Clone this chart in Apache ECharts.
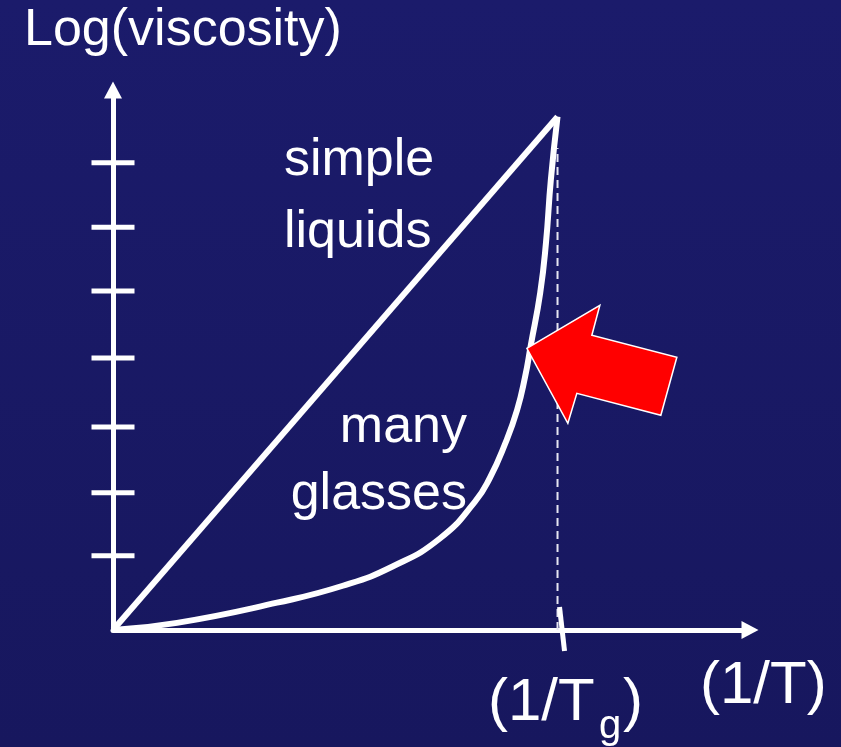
<!DOCTYPE html>
<html>
<head>
<meta charset="utf-8">
<title>Log(viscosity) vs 1/T</title>
<script src="https://cdn.jsdelivr.net/npm/echarts@6/dist/echarts.min.js"></script>
<style>
  html, body { margin: 0; padding: 0; }
  #chart { width: 841px; height: 747px; }
</style>
</head>
<body>
<div id="chart"></div>
<script>
// Axis extents (x in units of 1/Tg, y in log-viscosity steps)
const xMax = 1.433;
const yMax = 8.3;
const tgX = 1.0;

// Strong ("simple liquids") behaviour: straight Arrhenius line
const liquidsX = [0, 1.0];
const liquidsY = [0, 7.89];

// Fragile ("many glasses") behaviour
const glassX = [0, 0.144, 0.369, 0.517, 0.630, 0.736, 0.814, 0.848, 0.882, 0.909, 0.927, 0.940, 0.961, 0.974, 0.985, 1.0];
const glassY = [0, 0.11, 0.42, 0.68, 0.98, 1.41, 1.97, 2.34, 2.86, 3.38, 3.89, 4.38, 5.18, 5.95, 6.92, 7.89];

// Tick marks across the vertical axis
const tickLevels = [1.14, 2.11, 3.12, 4.18, 5.21, 6.19, 7.18];

// Top of the dashed guide at 1/Tg
const tgGuideTop = 7.41;

// Where the red arrow points on the glass curve
const arrowTarget = [0.931, 4.33];

const FONT = "'Liberation Sans', Arial, Helvetica, sans-serif";
const WHITE = '#ffffff';

const zip = (xs, ys) => xs.map((x, i) => [x, ys[i]]);

const chart = echarts.init(document.getElementById('chart'), null, { renderer: 'canvas' });

const axisCommon = {
  type: 'value',
  axisLine: { show: true, symbol: ['none', 'triangle'], symbolSize: [18, 17],
    lineStyle: { color: WHITE, width: 5 } },
  axisTick: { show: false }, axisLabel: { show: false }, splitLine: { show: false }
};

const option = {
  animation: false,
  backgroundColor: {
    type: 'linear', x: 0, y: 0, x2: 0, y2: 1,
    colorStops: [
      { offset: 0, color: '#1b1b6b' },
      { offset: 1, color: '#17175e' }
    ]
  },
  grid: { left: 113, right: 91, top: 90, bottom: 117 },
  xAxis: Object.assign({ min: 0, max: xMax }, axisCommon),
  yAxis: Object.assign({ min: 0, max: yMax }, axisCommon),
  series: [
    {
      // dashed guide at 1/Tg
      type: 'line', clip: false, silent: true, symbol: 'none',
      data: [[tgX, 0], [tgX, tgGuideTop]],
      lineStyle: { color: '#e6e6f2', width: 2, type: [8, 5] },
      z: 1
    },
    {
      type: 'scatter', clip: false, silent: true,
      symbol: 'rect', symbolSize: [43, 5],
      data: tickLevels.map(v => [0, v]),
      itemStyle: { color: WHITE, opacity: 1 },
      z: 3
    },
    {
      name: 'simple liquids',
      type: 'line', clip: false, silent: true, symbol: 'none',
      data: zip(liquidsX, liquidsY),
      lineStyle: { color: WHITE, width: 6, join: 'bevel' },
      z: 4
    },
    {
      name: 'many glasses',
      type: 'line', clip: false, silent: true, symbol: 'none',
      smooth: 0.5,
      data: zip(glassX, glassY),
      lineStyle: { color: WHITE, width: 6, join: 'bevel' },
      z: 4
    },
    {
      // slanted tick mark at 1/Tg on the horizontal axis
      type: 'custom', clip: false, silent: true,
      data: [[tgX, 0]],
      renderItem: (params, api) => {
        const c = api.coord([api.value(0), api.value(1)]);
        return {
          type: 'line',
          shape: { x1: c[0] + 2, y1: c[1] - 23, x2: c[0] + 7, y2: c[1] + 21 },
          style: { stroke: WHITE, lineWidth: 5 }
        };
      },
      z: 5
    },
    {
      // red block arrow pointing at the steep part of the glass curve
      type: 'custom', clip: false, silent: true,
      data: [arrowTarget],
      renderItem: (params, api) => {
        const c = api.coord([api.value(0), api.value(1)]);
        const offs = [[0, 0], [73, -43], [65, -13], [150, 9], [134, 67], [50, 45], [41, 75]];
        return {
          type: 'polygon',
          shape: { points: offs.map(o => [c[0] + o[0], c[1] + o[1]]) },
          style: { fill: '#ff0000', stroke: WHITE, lineWidth: 1.5, lineJoin: 'miter' }
        };
      },
      z: 6
    }
  ],
  graphic: [
    { type: 'text', x: 24, y: 31, style: { text: 'Log(viscosity)', font: '52px ' + FONT, fill: WHITE, verticalAlign: 'middle' } },
    { type: 'text', x: 284, y: 161, style: { text: 'simple', font: '52px ' + FONT, fill: WHITE, verticalAlign: 'middle' } },
    { type: 'text', x: 284, y: 233, style: { text: 'liquids', font: '52px ' + FONT, fill: WHITE, verticalAlign: 'middle' } },
    { type: 'text', x: 467, y: 428, style: { text: 'many', font: '52px ' + FONT, fill: WHITE, align: 'right', verticalAlign: 'middle' } },
    { type: 'text', x: 467, y: 495, style: { text: 'glasses', font: '52px ' + FONT, fill: WHITE, align: 'right', verticalAlign: 'middle' } },
    { type: 'text', x: 488, y: 703, style: { text: '(1/T', font: '60px ' + FONT, fill: WHITE, verticalAlign: 'middle' } },
    { type: 'text', x: 599, y: 727, style: { text: 'g', font: '40px ' + FONT, fill: WHITE, verticalAlign: 'middle' } },
    { type: 'text', x: 623, y: 703, style: { text: ')', font: '60px ' + FONT, fill: WHITE, verticalAlign: 'middle' } },
    { type: 'text', x: 700, y: 686, style: { text: '(1/T)', font: '60px ' + FONT, fill: WHITE, verticalAlign: 'middle' } }
  ]
};

chart.setOption(option);
</script>
</body>
</html>
